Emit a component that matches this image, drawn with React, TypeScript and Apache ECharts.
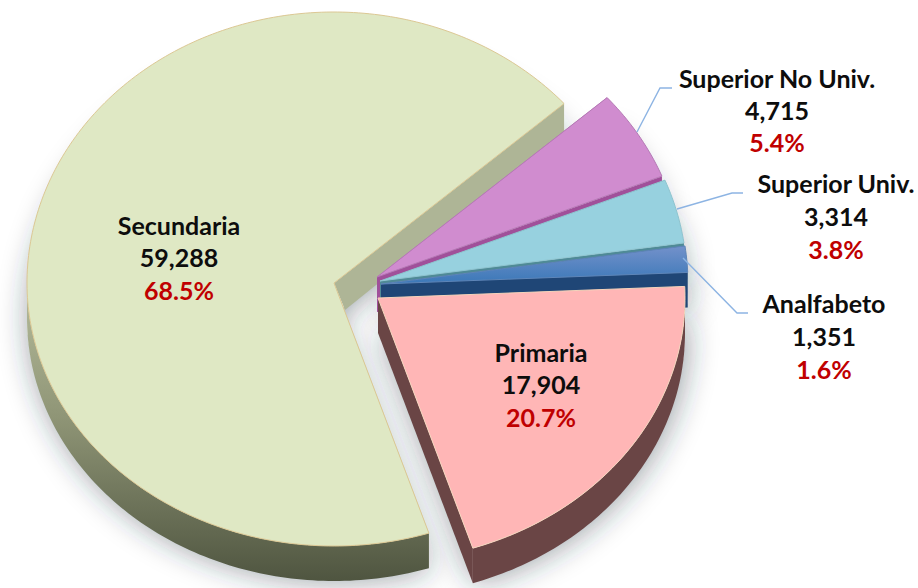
import React, { useEffect, useRef } from "react";
import * as echarts from "echarts";

// Data, in drawing order (clockwise from the start angle)
const categories = ["Secundaria", "Superior No Univ.", "Superior Univ.", "Analfabeto", "Primaria"];
const values = [59288, 4715, 3314, 1351, 17904];

// Look
const topColors: any[] = [
  "#dfe8c4",
  "#d08ccf",
  "#97d1df",
  { type: "linear", x: 0, y: 0, x2: 0, y2: 1, colorStops: [{ offset: 0, color: "#7391cb" }, { offset: 1, color: "#3a78b8" }] },
  "#ffb6b6",
];
const topStrokes = ["#dcc894", "#b57ab5", "#8fc4cf", "#5f86b8", "#f3d4bc"];
const edgeColors = ["#aeb596", "#a0509a", "#4f8a96", "#1f4676", "#6a4545"];
const arcColors: any[] = [
  { type: "linear", x: 0, y: 0, x2: 0, y2: 1, colorStops: [{ offset: 0, color: "#b6bc9c" }, { offset: 0.45, color: "#8f9576" }, { offset: 1, color: "#4f5540" }] },
  "#a0509a",
  "#4f8a96",
  "#1f4676",
  "#6a4545",
];

const START_ANGLE = 288;
const RX = 307;
const RY_UP = 271;
const RY_DOWN = 263;
const DEPTH = 35;
const apexes = [
  [334, 283],
  [377, 277],
  [380, 281],
  [381, 284],
  [378, 298],
];
// wall at the first radial edge of the large slice is foreshortened
const radialWall = [
  { apexDx: 11, apexDy: 27, depth: 30 },
  { apexDx: 0, apexDy: DEPTH, depth: DEPTH },
  { apexDx: 0, apexDy: DEPTH, depth: DEPTH },
  { apexDx: 0, apexDy: DEPTH, depth: DEPTH },
  { apexDx: 0, apexDy: DEPTH, depth: DEPTH },
];

const labelCenters = [
  { x: 179, ys: [225, 257, 290] },
  { x: 777, ys: [78, 110, 142] },
  { x: 836, ys: [183, 216, 249] },
  { x: 824, ys: [303, 336, 369] },
  { x: 541, ys: [352, 384, 417] },
];
const leaders = [
  [[637, 132], [660, 88], [672, 88]],
  [[677, 209], [732, 193], [743, 193]],
  [[683, 258], [737, 313], [748, 313]],
];

const total = values.reduce((a, b) => a + b, 0);
const angleSpans: [number, number][] = [];
{
  let a = START_ANGLE;
  values.forEach((v) => {
    const next = a - (v / total) * 360;
    angleSpans.push([a, next]);
    a = next;
  });
}

function pt(i: number, deg: number, dy = 0): number[] {
  const r = (deg * Math.PI) / 180;
  const s = Math.sin(r);
  return [apexes[i][0] + RX * Math.cos(r), apexes[i][1] - s * (s >= 0 ? RY_UP : RY_DOWN) + dy];
}

function arcPoints(i: number, a0: number, a1: number, dy = 0): number[][] {
  const n = Math.max(2, Math.ceil(Math.abs(a0 - a1)));
  const out: number[][] = [];
  for (let k = 0; k <= n; k++) out.push(pt(i, a0 + ((a1 - a0) * k) / n, dy));
  return out;
}

function renderShadow(params: any) {
  const i = params.dataIndex;
  const [a0, a1] = angleSpans[i];
  const apex = apexes[i];
  return {
    type: "polygon",
    shape: { points: [[apex[0], apex[1] + DEPTH - 4], ...arcPoints(i, a0, a1, DEPTH - 4)] },
    style: { fill: "#ffffff", shadowBlur: 30, shadowColor: "rgba(40,50,60,0.48)", shadowOffsetX: 2, shadowOffsetY: 4 },
  };
}

function renderSlice(params: any) {
  const i = params.dataIndex;
  const [a0, a1] = angleSpans[i];
  const apex = apexes[i];
  const w = radialWall[i];
  const children: any[] = [];

  // radial walls
  [a0, a1].forEach((ang) => {
    const corner = pt(i, ang);
    const isLast = ang === a1;
    const quad = [
      apex,
      corner,
      [corner[0], corner[1] + (isLast ? w.depth : DEPTH)],
      isLast ? [apex[0] + w.apexDx, apex[1] + w.apexDy] : [apex[0], apex[1] + DEPTH],
    ];
    children.push({ type: "polygon", shape: { points: quad }, style: { fill: edgeColors[i] } });
  });

  // outer wall: only the part of the rim on the lower half of the ellipse
  const lo = Math.min(a0, a1);
  const hi = Math.max(a0, a1);
  for (const [from, to] of [[-180, 0], [180, 360]]) {
    const s = Math.max(lo, from);
    const e = Math.min(hi, to);
    if (e > s) {
      const top = arcPoints(i, s, e);
      const bottom = arcPoints(i, e, s, DEPTH);
      children.push({
        type: "polygon",
        shape: { points: [...top, ...bottom] },
        style: { fill: arcColors[i] },
      });
    }
  }

  // top face
  children.push({
    type: "polygon",
    shape: { points: [apex, ...arcPoints(i, a0, a1)] },
    style: { fill: topColors[i], stroke: topStrokes[i], lineWidth: 1 },
  });
  return { type: "group", children };
}

function labelElements() {
  const els: any[] = [];
  const font = 'bold 25px Lato, "Open Sans", sans-serif';
  categories.forEach((name, i) => {
    const { x, ys } = labelCenters[i];
    const lines = [name, values[i].toLocaleString("en-US"), ((values[i] / total) * 100).toFixed(1) + "%"];
    lines.forEach((text, k) => {
      els.push({
        type: "text",
        x,
        y: ys[k],
        z: 10,
        style: { text, font, fill: k === 2 ? "#c00000" : "#0d0d0d", align: "center", verticalAlign: "middle" },
      });
    });
  });
  leaders.forEach((points) => {
    els.push({
      type: "polyline",
      z: 9,
      shape: { points },
      style: { stroke: "#8db4e3", lineWidth: 1.4, fill: "none" },
    });
  });
  return els;
}

export default function App() {
  const ref = useRef<HTMLDivElement>(null);
  useEffect(() => {
    const chart = echarts.init(ref.current!, undefined, { renderer: "svg" });
    chart.setOption({
      animation: false,
      backgroundColor: "#ffffff",
      graphic: { elements: labelElements() },
      series: [
        {
          type: "custom",
          coordinateSystem: "none",
          silent: true,
          data: values.map((v, i) => ({ name: categories[i], value: [v] })),
          renderItem: renderShadow,
          z: 1,
        },
        {
          type: "custom",
          coordinateSystem: "none",
          silent: true,
          data: values.map((v, i) => ({ name: categories[i], value: [v] })),
          renderItem: renderSlice,
          z: 2,
        },
      ],
    });
    return () => chart.dispose();
  }, []);
  return <div ref={ref} style={{ position: "absolute", left: 0, top: 0, width: 918, height: 588 }} />;
}
